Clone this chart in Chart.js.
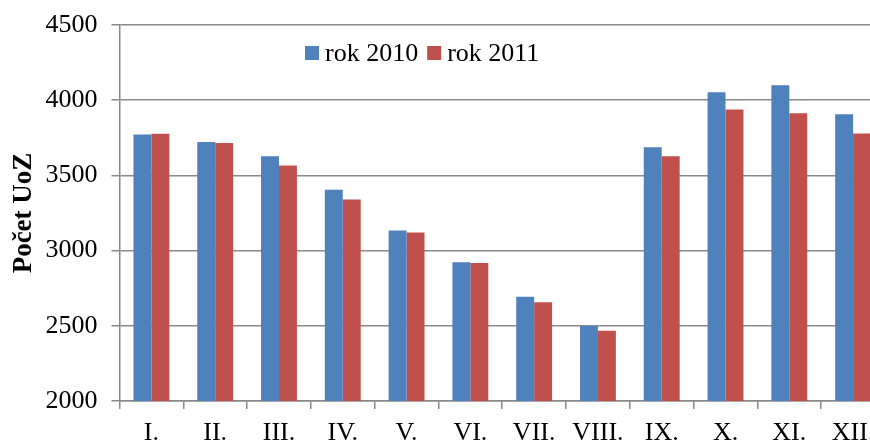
<!DOCTYPE html>
<html>
<head>
<meta charset="utf-8">
<script src="https://cdn.jsdelivr.net/npm/chart.js@4/dist/chart.umd.min.js"></script>
<style>
  html, body { margin: 0; padding: 0; background: #fff; overflow: hidden; }
  #wrap { width: 870px; height: 444px; overflow: hidden; }
</style>
</head>
<body>
<div id="wrap"><canvas id="barChart" width="890" height="444"></canvas></div>
<script>
const months = ['I.', 'II.', 'III.', 'IV.', 'V.', 'VI.', 'VII.', 'VIII.', 'IX.', 'X.', 'XI.', 'XII.'];
const rok2010 = [3772, 3722, 3627, 3405, 3133, 2922, 2693, 2498, 3687, 4053, 4100, 3907];
const rok2011 = [3777, 3715, 3565, 3340, 3120, 2918, 2657, 2467, 3627, 3938, 3913, 3778];
const yTicks = [2000, 2500, 3000, 3500, 4000, 4500];

const FONT = "'Liberation Serif', 'Times New Roman', serif";
const gridColor = '#8a8a8a';

// legend drawn inside the plot area, like the original
const innerLegend = {
  id: 'innerLegend',
  afterDraw(chart) {
    const ctx = chart.ctx;
    let x = 305;
    const y = 53;
    ctx.save();
    ctx.font = '26px ' + FONT;
    ctx.textBaseline = 'middle';
    chart.data.datasets.forEach(ds => {
      ctx.fillStyle = ds.backgroundColor;
      ctx.fillRect(x, y - 7, 14, 14);
      ctx.fillStyle = '#000';
      ctx.fillText(ds.label, x + 20, y + 1);
      x += 20 + ctx.measureText(ds.label).width + 9;
    });
    ctx.restore();
  }
};

const ctx = document.getElementById('barChart').getContext('2d');
new Chart(ctx, {
  type: 'bar',
  data: {
    labels: months,
    datasets: [
      { label: 'rok 2010', data: rok2010, backgroundColor: '#4F81BD' },
      { label: 'rok 2011', data: rok2011, backgroundColor: '#C0504D' }
    ]
  },
  options: {
    responsive: false,
    animation: false,
    categoryPercentage: 0.5625,
    barPercentage: 1,
    layout: { padding: { top: 25, right: 5, left: 0, bottom: 0 } },
    plugins: {
      legend: { display: false },
      tooltip: { enabled: false }
    },
    scales: {
      x: {
        offset: true,
        grid: {
          offset: true,
          drawOnChartArea: false,
          drawTicks: true,
          tickLength: 8,
          color: gridColor,
          lineWidth: 1.5
        },
        border: { display: true, color: gridColor, width: 1.5 },
        ticks: {
          color: '#000',
          padding: 9,
          maxRotation: 0,
          autoSkip: false,
          font: { family: FONT, size: 26 }
        },
        afterFit(scale) { scale.height = 43; }
      },
      y: {
        min: 2000,
        max: 4500,
        afterBuildTicks(scale) {
          scale.ticks = yTicks.map(v => ({ value: v }));
        },
        grid: {
          color: gridColor,
          lineWidth: 1.5,
          tickLength: 8
        },
        border: { display: true, color: gridColor, width: 1.5 },
        ticks: {
          color: '#000',
          padding: 14,
          font: { family: FONT, size: 26 },
          callback: value => String(value)
        },
        title: {
          display: true,
          text: 'Počet UoZ',
          color: '#000',
          padding: { top: 8, bottom: 0 },
          font: { family: FONT, size: 27, weight: 'bold' }
        },
        afterFit(scale) {
          scale.width = 119.5;
          scale.paddingTop = 10;
          scale.paddingBottom = 10;
        }
      }
    }
  },
  plugins: [innerLegend]
});
</script>
</body>
</html>
